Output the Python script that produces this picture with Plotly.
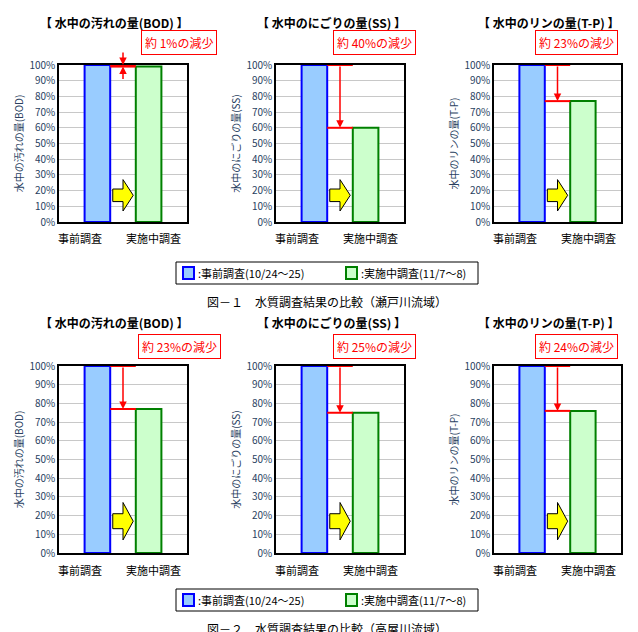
import plotly.graph_objects as go

W, H = 638, 632
FONT = "Noto Sans CJK JP"

titles = ["【 水中の汚れの量(BOD) 】", "【 水中のにごりの量(SS) 】", "【 水中のリンの量(T-P) 】"]
ytitles = ["水中の汚れの量(BOD)", "水中のにごりの量(SS)", "水中のリンの量(T-P)"]
categories = ["事前調査", "実施中調査"]
before_top = [100, 100, 100]
after_top = [99, 60, 77]
labels_top = ["約 1%の減少", "約 40%の減少", "約 23%の減少"]
before_bot = [100, 100, 100]
after_bot = [77, 75, 76]
labels_bot = ["約 23%の減少", "約 25%の減少", "約 24%の減少"]
legend_labels = [":事前調査(10/24～25)", ":実施中調査(11/7～8)"]
captions = ["図－１　水質調査結果の比較（瀬戸川流域）", "図－２　水質調査結果の比較（高屋川流域）"]

panel_x = [(51, 179), (268, 396), (486, 613)]
box_cx = [171, 366, 568]
rows = [
    dict(top=57, bot=214, title_y=14, box_y=35, cat_y=230, leg_y=265, cap_y=293,
         before=before_top, after=after_top, labels=labels_top, cap=captions[0]),
    dict(top=358, bot=545, title_y=314, box_y=338, cat_y=562, leg_y=592, cap_y=620,
         before=before_bot, after=after_bot, labels=labels_bot, cap=captions[1]),
]

def px(x):
    return x / W

def py(y):
    return 1 - y / H

def text(x, y, t, size=11, color="black", **kw):
    d = dict(x=px(x), y=py(y), xref="paper", yref="paper", text=t, showarrow=False,
             xanchor="center", yanchor="middle", font=dict(size=size, family=FONT, color=color))
    d.update(kw)
    return d

fig = go.Figure()
annotations = []
shapes = []
layout = {}
n = 0
for r in rows:
    for i in range(3):
        n += 1
        xa = "x" if n == 1 else f"x{n}"
        ya = "y" if n == 1 else f"y{n}"
        x0, x1 = panel_x[i]
        layout["xaxis" if n == 1 else f"xaxis{n}"] = dict(
            domain=[px(x0), px(x1)], range=[0, 5], showticklabels=False,
            showgrid=False, zeroline=False, showline=True, linecolor="black",
            mirror=True, linewidth=1.5, anchor=ya, fixedrange=True, automargin=False)
        layout["yaxis" if n == 1 else f"yaxis{n}"] = dict(
            domain=[py(r["bot"]), py(r["top"])], range=[0, 100], dtick=10,
            ticksuffix="%", gridcolor="#c8c8c8", zeroline=False, showline=True,
            linecolor="black", mirror=True, linewidth=1.5, anchor=xa, automargin=False,
            tickfont=dict(size=10, family=FONT), ticks="", fixedrange=True,
            title=dict(text=ytitles[i], font=dict(size=10, family=FONT), standoff=4))
        b, a = r["before"][i], r["after"][i]
        fig.add_trace(go.Bar(x=[1.5], y=[b], width=1, xaxis=xa, yaxis=ya,
                             marker=dict(color="#99ccff", line=dict(color="#0000ff", width=2)),
                             showlegend=False))
        fig.add_trace(go.Bar(x=[3.5], y=[a], width=1, xaxis=xa, yaxis=ya,
                             marker=dict(color="#ccffcc", line=dict(color="#008000", width=2)),
                             showlegend=False))
        shapes.append(dict(type="line", xref=xa, yref=ya, x0=2, x1=3.0, y0=b, y1=b,
                           line=dict(color="red", width=2)))
        shapes.append(dict(type="line", xref=xa, yref=ya, x0=2, x1=3.0, y0=a, y1=a,
                           line=dict(color="red", width=2)))
        if b - a > 5:
            annotations.append(dict(x=2.5, y=a, ax=2.5, ay=b, xref=xa, yref=ya,
                                    axref=xa, ayref=ya, text="", showarrow=True,
                                    arrowhead=2, arrowcolor="red", arrowwidth=1.5))
        else:
            annotations.append(dict(x=2.5, y=b, ax=0, ay=-14, xref=xa, yref=ya, text="",
                                    showarrow=True, arrowhead=2, arrowcolor="red", arrowwidth=1.5))
            annotations.append(dict(x=2.5, y=a, ax=0, ay=14, xref=xa, yref=ya, text="",
                                    showarrow=True, arrowhead=2, arrowcolor="red", arrowwidth=1.5))
        shapes.append(dict(type="path", xref=xa, yref=ya,
                           path="M 2.1 13 L 2.5 13 L 2.5 7 L 2.9 17 L 2.5 27 L 2.5 21 L 2.1 21 Z",
                           fillcolor="#ffff00", line=dict(color="black", width=1)))
        for cx, cat in zip([x0 + 21, x0 + 94], categories):
            annotations.append(text(cx, r["cat_y"], cat))
        annotations.append(text(x0 + 55, r["title_y"], f"<b>{titles[i]}</b>", size=12))
        annotations.append(text(box_cx[i], r["box_y"], r["labels"][i], size=12, color="red",
                                bordercolor="red", borderwidth=1, bgcolor="white", borderpad=3))
    ly = r["leg_y"]
    shapes.append(dict(type="rect", xref="paper", yref="paper", x0=px(168), x1=px(470),
                       y0=py(ly + 11), y1=py(ly - 11), line=dict(color="black", width=1)))
    for lx, fill, edge, txt in [(175, "#99ccff", "#0000ff", legend_labels[0]),
                                (338, "#ccffcc", "#008000", legend_labels[1])]:
        shapes.append(dict(type="rect", xref="paper", yref="paper", x0=px(lx), x1=px(lx + 11),
                           y0=py(ly + 6), y1=py(ly - 6), fillcolor=fill,
                           line=dict(color=edge, width=2)))
        annotations.append(text(lx + 13, ly, txt, xanchor="left"))
    annotations.append(text(319, r["cap_y"], r["cap"], size=12))

fig.update_layout(width=W, height=H, margin=dict(l=0, r=0, t=0, b=0),
                  plot_bgcolor="white", paper_bgcolor="white", showlegend=False,
                  annotations=annotations, shapes=shapes, **layout)
fig.write_html("out.html")
